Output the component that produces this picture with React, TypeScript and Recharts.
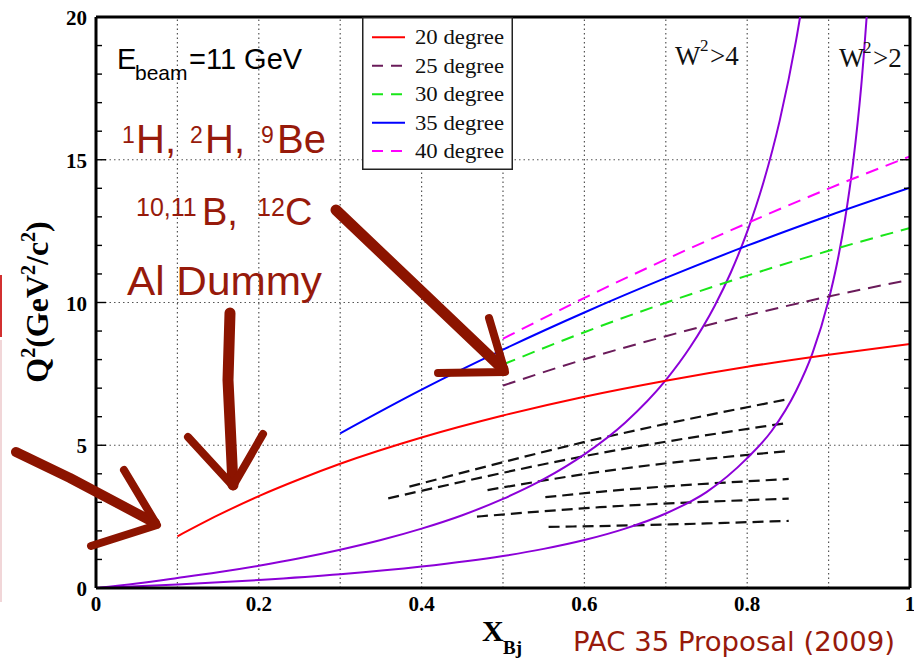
import React from 'react';
import { LineChart, Line, XAxis, YAxis, ReferenceLine, Legend } from 'recharts';

// ---- axes ----
const xTicks = [0, 0.1, 0.2, 0.3, 0.4, 0.5, 0.6, 0.7, 0.8, 0.9, 1];
const xTickLabels = ['0', '', '0.2', '', '0.4', '', '0.6', '', '0.8', '', '1'];
const yTicks = [0, 1, 2, 3, 4, 5, 6, 7, 8, 9, 10, 11, 12, 13, 14, 15, 16, 17, 18, 19, 20];
const yLabelled = [0, 5, 10, 15, 20];
const gridX = [0.1, 0.2, 0.3, 0.4, 0.5, 0.6, 0.7, 0.8, 0.9];
const gridY = [5, 10, 15];

// ---- fixed-angle curves (Q2 vs xBj) ----
const x20 = [0.1, 0.15, 0.2, 0.25, 0.3, 0.4, 0.5, 0.6, 0.7, 0.8, 0.9, 1.0];
const q2Deg20 = [1.81, 2.55, 3.22, 3.81, 4.35, 5.27, 6.04, 6.7, 7.26, 7.75, 8.17, 8.55];
const x35 = [0.3, 0.4, 0.5, 0.6, 0.7, 0.8, 0.9, 1.0];
const q2Deg35 = [5.42, 6.95, 8.35, 9.65, 10.86, 11.99, 13.04, 14.02];
const xHigh = [0.5, 0.6, 0.7, 0.8, 0.9, 1.0];
const q2Deg25 = [7.09, 8.01, 8.82, 9.55, 10.21, 10.8];
const q2Deg30 = [7.83, 8.96, 9.99, 10.94, 11.81, 12.61];
const q2Deg40 = [8.73, 10.16, 11.51, 12.78, 13.99, 15.12];

// ---- W2 limits ----
const xW4 = [0, 0.05, 0.1, 0.15, 0.2, 0.25, 0.3, 0.35, 0.4, 0.45, 0.5, 0.55, 0.6, 0.65, 0.7, 0.73, 0.76, 0.78, 0.8, 0.82, 0.84, 0.86, 0.87];
const q2W4 = [0, 0.16, 0.35, 0.55, 0.78, 1.04, 1.34, 1.68, 2.08, 2.55, 3.12, 3.81, 4.68, 5.79, 7.28, 8.44, 9.88, 11.06, 12.48, 14.21, 16.38, 19.17, 20.88];
const xW2 = [0, 0.1, 0.2, 0.3, 0.4, 0.5, 0.55, 0.6, 0.65, 0.7, 0.75, 0.8, 0.83, 0.86, 0.88, 0.9, 0.91, 0.92, 0.93, 0.94, 0.95];
const q2W2 = [0, 0.12, 0.28, 0.48, 0.75, 1.12, 1.37, 1.68, 2.08, 2.61, 3.36, 4.55, 5.5, 6.9, 8.21, 10.08, 11.32, 12.88, 14.88, 17.55, 21.28];

// ---- black dashed lines ----
const xDashA = [0.385, 0.619, 0.851];
const q2DashA = [3.55, 5.24, 6.62];
const xDashB = [0.359, 0.619, 0.851];
const q2DashB = [3.14, 4.72, 5.79];
const xDashC = [0.481, 0.619, 0.851];
const q2DashC = [3.43, 4.07, 4.8];
const xDashD = [0.552, 0.619, 0.851];
const q2DashD = [3.18, 3.37, 3.82];
const xDashE = [0.468, 0.619, 0.851];
const q2DashE = [2.5, 2.83, 3.13];
const xDashF = [0.556, 0.619, 0.851];
const q2DashF = [2.14, 2.17, 2.35];

// ---- legend ----
const legendNames = ['20 degree', '25 degree', '30 degree', '35 degree', '40 degree'];
const legendColors = ['#ff0000', '#6a1b5a', '#19e619', '#0000ff', '#ff00ff'];
const legendDashed = [false, true, true, false, true];

const pts = (xs: number[], ys: number[]) => xs.map((x, i) => ({ x, y: ys[i] }));

const SERIF = '"Liberation Serif", "Times New Roman", serif';
const SANS = '"Liberation Sans", Arial, sans-serif';
const RED = '#971a0b';
const ARROW = '#8c1400';
const PURPLE = '#8c00d8';

const LeftTick = (props: any) => {
  const { x, y, payload } = props;
  const v = payload.value;
  const major = yLabelled.includes(v);
  return (
    <g>
      <line x1={x + 9} x2={x + 9 + (major ? 10 : 6)} y1={y} y2={y} stroke="#000" strokeWidth={1.4} />
      {major && (
        <text x={x} y={y} dy={8} textAnchor="end" fontFamily={SERIF} fontWeight="bold" fontSize={21} fill="#000">
          {v}
        </text>
      )}
    </g>
  );
};

const RightTick = (props: any) => {
  const { x, y, payload } = props;
  const major = yLabelled.includes(payload.value);
  return <line x1={x - (major ? 10 : 6)} x2={x} y1={y} y2={y} stroke="#000" strokeWidth={1.4} />;
};

const BottomTick = (props: any) => {
  const { x, y, index } = props;
  const label = xTickLabels[index];
  if (!label) return <g />;
  return (
    <text x={x} y={y + 23} textAnchor="middle" fontFamily={SERIF} fontWeight="bold" fontSize={21} fill="#000">
      {label}
    </text>
  );
};

const LegendBox = () => (
  <svg width={151} height={153} style={{ display: 'block' }}>
    <rect x={0.75} y={0.75} width={149.5} height={151.5} fill="#fff" stroke="#222" strokeWidth={1.5} />
    {legendNames.map((n, i) => {
      const cy = 20.3 + i * 28.45;
      return (
        <g key={n}>
          <line x1={10} x2={43} y1={cy} y2={cy} stroke={legendColors[i]} strokeWidth={2} strokeDasharray={legendDashed[i] ? '11 8' : undefined} />
          <text x={53} y={cy + 7} fontFamily={SERIF} fontSize={22} fill="#111" textLength={89} lengthAdjust="spacingAndGlyphs">
            {n}
          </text>
        </g>
      );
    })}
  </svg>
);

const lineProps = { dataKey: 'y', dot: false, isAnimationActive: false, activeDot: false, type: 'monotone' as const };

export default function App() {
  return (
    <div style={{ position: 'absolute', left: 0, top: 0, width: 914, height: 659, background: '#fff', overflow: 'hidden' }}>
      <LineChart width={914} height={659} margin={{ top: 17, right: 0, left: 0, bottom: 0 }}>
        <XAxis
          type="number"
          dataKey="x"
          domain={[0, 1]}
          ticks={xTicks}
          interval={0}
          height={71}
          tickSize={0}
          tickMargin={0}
          tickLine={false}
          axisLine={{ stroke: '#000', strokeWidth: 3 }}
          tick={<BottomTick />}
          allowDataOverflow
        />
        <YAxis
          type="number"
          domain={[0, 20]}
          ticks={yTicks}
          interval={0}
          width={96}
          tickSize={0}
          tickMargin={9}
          tickLine={false}
          axisLine={{ stroke: '#000', strokeWidth: 3 }}
          tick={<LeftTick />}
          allowDataOverflow
        />
        <YAxis
          yAxisId="right"
          orientation="right"
          type="number"
          domain={[0, 20]}
          ticks={yTicks}
          interval={0}
          width={4}
          tickSize={0}
          tickMargin={0}
          tickLine={false}
          axisLine={{ stroke: '#000', strokeWidth: 3 }}
          tick={<RightTick />}
          allowDataOverflow
        />
        {gridX.map((v) => (
          <ReferenceLine key={'gx' + v} x={v} stroke="#555" strokeWidth={1.2} strokeDasharray="1.5 3" />
        ))}
        {gridY.map((v) => (
          <ReferenceLine key={'gy' + v} y={v} stroke="#555" strokeWidth={1.2} strokeDasharray="1.5 3" />
        ))}
        <ReferenceLine y={20} stroke="#000" strokeWidth={3} />

        <Line {...lineProps} data={pts(xDashA, q2DashA)} stroke="#111" strokeWidth={2.2} strokeDasharray="11 6" />
        <Line {...lineProps} data={pts(xDashB, q2DashB)} stroke="#111" strokeWidth={2.2} strokeDasharray="11 6" />
        <Line {...lineProps} data={pts(xDashC, q2DashC)} stroke="#111" strokeWidth={2.2} strokeDasharray="11 6" />
        <Line {...lineProps} data={pts(xDashD, q2DashD)} stroke="#111" strokeWidth={2.2} strokeDasharray="11 6" />
        <Line {...lineProps} data={pts(xDashE, q2DashE)} stroke="#111" strokeWidth={2.2} strokeDasharray="11 6" />
        <Line {...lineProps} data={pts(xDashF, q2DashF)} stroke="#111" strokeWidth={2.2} strokeDasharray="11 6" />

        <Line {...lineProps} data={pts(xW4, q2W4)} stroke={PURPLE} strokeWidth={2} />
        <Line {...lineProps} data={pts(xW2, q2W2)} stroke={PURPLE} strokeWidth={2} />

        <Line {...lineProps} name={legendNames[0]} data={pts(x20, q2Deg20)} stroke={legendColors[0]} strokeWidth={2} />
        <Line {...lineProps} name={legendNames[1]} data={pts(xHigh, q2Deg25)} stroke={legendColors[1]} strokeWidth={2} strokeDasharray="13 8" />
        <Line {...lineProps} name={legendNames[2]} data={pts(xHigh, q2Deg30)} stroke={legendColors[2]} strokeWidth={2} strokeDasharray="13 8" />
        <Line {...lineProps} name={legendNames[3]} data={pts(x35, q2Deg35)} stroke={legendColors[3]} strokeWidth={2} />
        <Line {...lineProps} name={legendNames[4]} data={pts(xHigh, q2Deg40)} stroke={legendColors[4]} strokeWidth={2} strokeDasharray="13 8" />

        <Legend
          layout="vertical"
          align="center"
          verticalAlign="middle"
          wrapperStyle={{ position: 'absolute', left: 362, top: 17, width: 151, height: 153 }}
          content={() => <LegendBox />}
        />
      </LineChart>

      <div style={{ position: 'absolute', left: 0, top: 275, width: 2, height: 62, background: '#d23030' }} />
      <div style={{ position: 'absolute', left: 0, top: 340, width: 2, height: 262, background: '#f1d6d8' }} />

      <svg width={914} height={659} style={{ position: 'absolute', left: 0, top: 0, pointerEvents: 'none' }}>
        {/* beam energy */}
        <text x={117} y={69} fontFamily={SANS} fontSize={29} fill="#000">
          E
        </text>
        <text x={135} y={80} fontFamily={SANS} fontSize={21} fill="#000">
          beam
        </text>
        <text x={189} y={69} fontFamily={SANS} fontSize={29} fill="#000">
          =11 GeV
        </text>

        {/* targets */}
        <g fontFamily={SANS} fill={RED}>
          <text x={122} y={143} fontSize={23}>1</text>
          <text x={136} y={153} fontSize={40}>H,</text>
          <text x={190} y={143} fontSize={23}>2</text>
          <text x={205} y={153} fontSize={40}>H,</text>
          <text x={261} y={143} fontSize={23}>9</text>
          <text x={277} y={153} fontSize={40}>Be</text>

          <text x={136} y={216} fontSize={25}>10,11</text>
          <text x={202} y={225} fontSize={38}>B,</text>
          <text x={257} y={216} fontSize={25}>12</text>
          <text x={285} y={225} fontSize={38}>C</text>

          <text x={127} y={295} fontSize={40} textLength={195} lengthAdjust="spacingAndGlyphs">Al Dummy</text>
        </g>

        {/* W2 labels */}
        <g fontFamily={SERIF} fill="#111">
          <text x={675} y={65} fontSize={27}>W</text>
          <text x={700} y={51} fontSize={17}>2</text>
          <text x={710} y={65} fontSize={27}>&gt;4</text>
          <text x={839} y={67} fontSize={27}>W</text>
          <text x={863} y={53} fontSize={17}>2</text>
          <text x={873} y={67} fontSize={27}>&gt;2</text>
        </g>

        {/* axis titles */}
        <g fontFamily={SERIF} fontWeight="bold" fill="#000">
          <text x={482} y={641} fontSize={30}>X</text>
          <text x={503} y={654} fontSize={19}>Bj</text>
          <text transform="translate(48,302) rotate(-90)" textAnchor="middle" fontSize={32}>
            Q<tspan fontSize={20} dy={-13}>2</tspan>
            <tspan dy={13}>(GeV</tspan>
            <tspan fontSize={20} dy={-13}>2</tspan>
            <tspan dy={13}>/c</tspan>
            <tspan fontSize={20} dy={-13}>2</tspan>
            <tspan dy={13}>)</tspan>
          </text>
        </g>

        <text x={573} y={651} fontFamily='"DejaVu Sans", Verdana, sans-serif' fontSize={26} fill={RED} textLength={322} lengthAdjust="spacingAndGlyphs">
          PAC 35 Proposal (2009)
        </text>

        {/* hand-drawn arrows */}
        <g stroke={ARROW} fill="none" strokeLinecap="round" strokeLinejoin="round">
          <path d="M16 452 L70 478 L155 523" strokeWidth={10} />
          <path d="M40 462 L150 520" strokeWidth={4} strokeOpacity={0.7} />
          <path d="M124 470 L157 525 L91 546" strokeWidth={8} />

          <path d="M230 313 L228 380 L233 485" strokeWidth={11} />
          <path d="M188 437 L233 486 L263 434" strokeWidth={8} />

          <path d="M336 210 L420 290 L503 369" strokeWidth={11} />
          <path d="M489 318 L505 372 L438 373" strokeWidth={8} />
        </g>
      </svg>
    </div>
  );
}
